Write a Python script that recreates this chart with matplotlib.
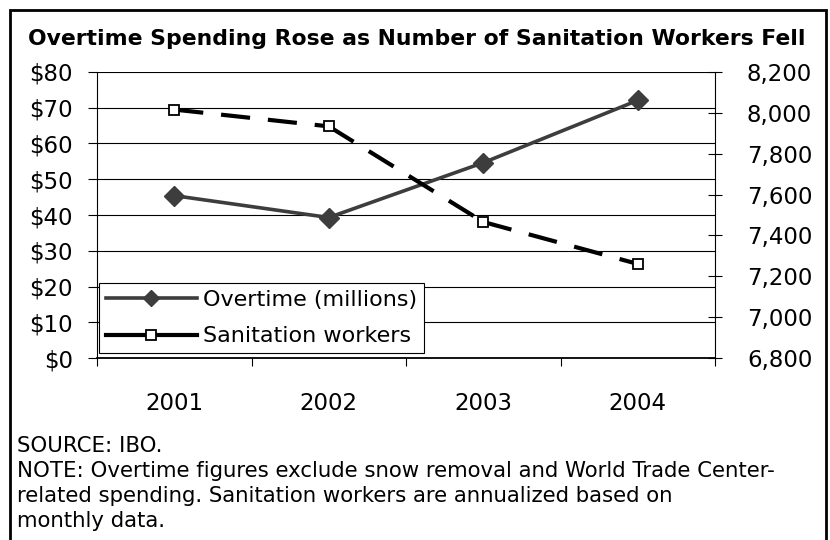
import matplotlib
matplotlib.use("Agg")
import matplotlib.pyplot as plt
from matplotlib.lines import Line2D
from matplotlib.patches import Rectangle
from matplotlib.ticker import FuncFormatter

# ---- data ----
years = ["2001", "2002", "2003", "2004"]
overtime_millions = [45.4, 39.3, 54.6, 72.0]
sanitation_workers = [8015, 7933, 7466, 7261]
dollar_ticks = [0, 10, 20, 30, 40, 50, 60, 70, 80]
worker_ticks = [6800, 7000, 7200, 7400, 7600, 7800, 8000, 8200]

title = "Overtime Spending Rose as Number of Sanitation Workers Fell"
series_labels = ["Overtime (millions)", "Sanitation workers"]
footnotes = [
    "SOURCE: IBO.",
    "NOTE: Overtime figures exclude snow removal and World Trade Center-",
    "related spending. Sanitation workers are annualized based on",
    "monthly data.",
]

plt.rcParams["font.family"] = ["DejaVu Sans"]

W, H = 830, 540
fig = plt.figure(figsize=(W / 100, H / 100), dpi=100)

# plot area in pixel terms
left_px, right_px, top_px, bottom_px = 97, 715, 71.7, 358.3
ax = fig.add_axes([left_px / W, 1 - bottom_px / H,
                   (right_px - left_px) / W, (bottom_px - top_px) / H])
ax2 = ax.twinx()

x = list(range(len(years)))
ax.set_xlim(-0.5, len(years) - 0.5)
ax.set_ylim(dollar_ticks[0], dollar_ticks[-1])
ax2.set_ylim(worker_ticks[0], worker_ticks[-1])

# horizontal gridlines from the dollar axis
ax.set_yticks(dollar_ticks)
ax.yaxis.grid(True, color="black", linewidth=0.8)
ax.yaxis.set_major_formatter(FuncFormatter(lambda v, p: f"${int(v)}"))
ax.tick_params(axis="y", direction="out", length=6.5, width=0.8, pad=10.8,
               labelsize=16.5, colors="black")

ax2.set_yticks(worker_ticks)
ax2.yaxis.set_major_formatter(FuncFormatter(lambda v, p: f"{int(v):,}"))
ax2.tick_params(axis="y", direction="inout", length=9.4, width=0.8, pad=18.3,
                labelsize=16.5, colors="black")

# categories: labels at centres, tick marks on the boundaries
ax.set_xticks(x)
ax.set_xticklabels(years)
ax.set_xticks([i - 0.5 for i in range(len(years) + 1)], minor=True)
ax.tick_params(axis="x", which="major", length=0, pad=24.5, labelsize=16.5)
ax.tick_params(axis="x", which="minor", direction="out", length=6, width=0.8)

for a in (ax, ax2):
    a.spines["top"].set_visible(False)
ax.spines["right"].set_visible(False)
ax2.spines["left"].set_visible(False)
ax2.spines["bottom"].set_visible(False)
ax.spines["left"].set_linewidth(0.8)
ax.spines["bottom"].set_linewidth(1.3)
ax2.spines["right"].set_linewidth(0.8)

# overtime series (left axis)
ot_color = "#3d3d3d"
ax.plot(x, overtime_millions, color=ot_color, linewidth=2.6, marker="D",
        markersize=10.5, markerfacecolor=ot_color, markeredgecolor=ot_color,
        solid_joinstyle="miter", zorder=3)

# sanitation workers (right axis): dash pattern restarts at every point
for i in range(len(x) - 1):
    ax2.plot(x[i:i + 2], sanitation_workers[i:i + 2], color="black",
             linewidth=3.0, dashes=(7, 4.3), dash_capstyle="butt", zorder=3)
ax2.plot(x, sanitation_workers, linestyle="none", marker="s", markersize=7.5,
         markerfacecolor="white", markeredgecolor="black",
         markeredgewidth=1.3, zorder=4)

handles = [
    Line2D([], [], color=ot_color, linewidth=2.6, marker="D", markersize=8,
           markerfacecolor=ot_color, markeredgecolor=ot_color),
    Line2D([], [], color="black", linewidth=3.0, marker="s", markersize=7.5,
           markerfacecolor="white", markeredgecolor="black",
           markeredgewidth=1.3),
]
leg = ax2.legend(handles, series_labels, loc="lower left",
                 bbox_to_anchor=(0.003, 0.0185), borderaxespad=0,
                 frameon=True, fancybox=False, framealpha=1,
                 edgecolor="black", fontsize=16, handlelength=4.1,
                 handletextpad=0.3, labelspacing=0.75, borderpad=0.3)
leg.get_frame().set_linewidth(0.8)
leg.set_zorder(10)

fig.text(28 / W, 1 - 45 / H, title, fontsize=15.75, fontweight="bold",
         ha="left", va="baseline")

for k, line in enumerate(footnotes):
    fig.text(17 / W, 1 - (451.5 + 25.3 * k) / H, line, fontsize=15.3,
             ha="left", va="baseline")

# outer frame (open at the bottom edge of the image)
fig.add_artist(Rectangle((9.5 / W, -0.05), (826 - 9.5) / W, 1.05 - 9.5 / H,
                         transform=fig.transFigure, fill=False,
                         edgecolor="black", linewidth=2.0))

fig.savefig("out.png", dpi=100)
